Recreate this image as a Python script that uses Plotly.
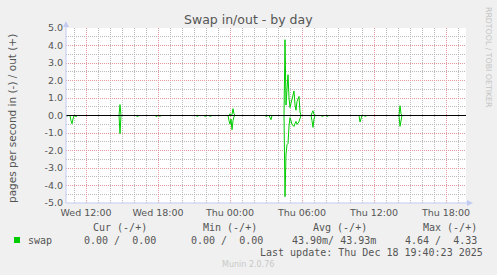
import pandas as pd
import plotly.graph_objects as go

# ---------------- data ----------------
title = "Swap in/out - by day"
y_label = "pages per second in (-) / out (+)"
y_tick_vals = [5, 4, 3, 2, 1, 0, -1, -2, -3, -4, -5]
y_tick_labels = ["5.0", "4.0", "3.0", "2.0", "1.0", "0.0",
                 "-1.0", "-2.0", "-3.0", "-4.0", "-5.0"]

range_start = "2025-12-17 10:20"
range_end = "2025-12-18 19:40"

# non-zero 5-minute samples (all other samples read as 0)
sample_times = [
    "2025-12-17 10:25", "2025-12-17 10:45", "2025-12-17 10:50", "2025-12-17 10:55",
    "2025-12-17 11:10", "2025-12-17 14:50", "2025-12-17 16:15", "2025-12-17 17:50",
    "2025-12-17 18:10", "2025-12-17 21:15", "2025-12-17 21:55", "2025-12-17 22:20",
    "2025-12-17 23:55", "2025-12-18 00:00", "2025-12-18 00:05", "2025-12-18 00:10",
    "2025-12-18 00:15", "2025-12-18 00:20", "2025-12-18 03:00", "2025-12-18 03:20",
    "2025-12-18 03:25", "2025-12-18 04:35", "2025-12-18 04:40", "2025-12-18 04:45",
    "2025-12-18 04:50", "2025-12-18 04:55", "2025-12-18 05:00", "2025-12-18 05:05",
    "2025-12-18 05:10", "2025-12-18 05:15", "2025-12-18 05:20", "2025-12-18 05:25",
    "2025-12-18 05:30", "2025-12-18 05:35", "2025-12-18 05:40", "2025-12-18 05:45",
    "2025-12-18 05:50", "2025-12-18 06:50", "2025-12-18 06:55", "2025-12-18 07:00",
    "2025-12-18 07:40", "2025-12-18 08:05", "2025-12-18 09:00", "2025-12-18 09:45",
    "2025-12-18 10:10", "2025-12-18 10:50", "2025-12-18 10:55", "2025-12-18 11:15",
    "2025-12-18 14:10", "2025-12-18 14:15", "2025-12-18 16:40", "2025-12-18 17:25",
    "2025-12-18 19:00",
]
swap_out = [
    0, 0, 0, 0,
    0, 0.62, 0, 0,
    0, 0, 0, 0,
    0, 0.10, 0, 0.05,
    0.39, 0.10, 0, 0,
    0, 4.33, 0.60, 1.50,
    2.33, 1.00, 0.45, 0.70,
    1.00, 1.20, 1.40, 0.60,
    0.30, 0.80, 1.00, 1.09,
    0.20, 0.15, 0.27, 0.05,
    0, 0, 0, 0,
    0, 0, 0, 0,
    0.56, 0.10, 0, 0,
    0,
]
swap_in = [
    0.05, 0.30, 0.47, 0.20,
    0.08, 1.04, 0.06, 0.06,
    0.06, 0.05, 0.05, 0.05,
    0.30, 0.50, 0.20, 0.81,
    0.30, 0.05, 0.05, 0.12,
    0.24, 4.64, 2.20, 1.67,
    1.60, 0.60, 0.12, 0.30,
    0.52, 0.55, 0.62, 0.45,
    0.34, 0.50, 0.45, 0.34,
    0.10, 0.30, 0.68, 0.20,
    0.05, 0.05, 0.04, 0.04,
    0.04, 0.37, 0.15, 0.05,
    0.62, 0.20, 0.04, 0.04,
    0.04,
]

legend_name = "swap"
legend_headers = ["Cur (-/+)", "Min (-/+)", "Avg (-/+)", "Max (-/+)"]
legend_values = ["0.00 /\u00a0\u00a00.00", "0.00 /\u00a0\u00a00.00",
                 "43.90m/\u00a043.93m", "4.64 /\u00a0\u00a04.33"]
last_update = "Last update: Thu Dec 18 19:40:23 2025"
footer = "Munin 2.0.76"
side_text = "RRDTOOL / TOBI OETIKER"

# ---------------- build series ----------------
grid = pd.date_range(range_start, range_end, freq="5min")
idx = pd.to_datetime(sample_times)
s_out = pd.Series(swap_out, index=idx).reindex(grid, fill_value=0.0)
s_in = pd.Series(swap_in, index=idx).reindex(grid, fill_value=0.0)

GREEN = "#00cc00"
W, H = 497, 275
L, R, T, B = 66, 31, 28, 72
PW, PH = W - L - R, H - T - B


def px(x):
    return (x - L) / PW


def py(y):
    return (H - B - y) / PH


fig = go.Figure()
fig.add_trace(go.Scatter(x=grid, y=s_out.values, mode="lines",
                         line=dict(color=GREEN, width=1), hoverinfo="skip",
                         showlegend=False))
fig.add_trace(go.Scatter(x=grid, y=-s_in.values, mode="lines",
                         line=dict(color=GREEN, width=1), hoverinfo="skip",
                         showlegend=False))

MAJOR = "#e39a9a"
MINOR = "#b9b9b9"
DASH = "1px,1px"
TICKC = "#555555"

fig.update_layout(
    width=W, height=H,
    margin=dict(l=L, r=R, t=T, b=B, pad=0),
    paper_bgcolor="#f0f0f0", plot_bgcolor="#ffffff",
    showlegend=False,
    font=dict(family="DejaVu Sans", color=TICKC),
    xaxis=dict(
        type="date", range=[range_start, range_end],
        tick0="2025-12-17 00:00", dtick=6 * 3600 * 1000,
        tickformat="%a %H:%M",
        showgrid=True, gridcolor=MAJOR, griddash=DASH, gridwidth=1,
        minor=dict(dtick=3600 * 1000, tick0="2025-12-17 00:00", showgrid=True,
                   gridcolor=MINOR, griddash=DASH, gridwidth=1),
        zeroline=False, showline=False, ticks="",
        tickfont=dict(family="DejaVu Sans", size=9.5, color=TICKC),
        ticklabelstandoff=2,
        fixedrange=True,
    ),
    yaxis=dict(
        range=[-5, 5], tickvals=y_tick_vals, ticktext=y_tick_labels,
        showgrid=True, gridcolor=MAJOR, griddash=DASH, gridwidth=1,
        minor=dict(dtick=0.5, tick0=0, showgrid=True,
                   gridcolor=MINOR, griddash=DASH, gridwidth=1),
        zeroline=False, showline=False, ticks="",
        tickfont=dict(family="DejaVu Sans", size=9.5, color=TICKC),
        ticklabelstandoff=2,
        fixedrange=True,
    ),
)

AXC = "#c4cbf3"
shapes = [
    # zero rule above the data
    dict(type="line", xref="paper", yref="y", x0=0, x1=1, y0=0, y1=0,
         line=dict(color="#000000", width=1), layer="above"),
    # axis lines
    dict(type="line", xref="paper", yref="paper", x0=px(66), x1=px(66),
         y0=py(203), y1=py(23), line=dict(color=AXC, width=1), layer="above"),
    dict(type="line", xref="paper", yref="paper", x0=px(66), x1=px(471),
         y0=py(203), y1=py(203), line=dict(color=AXC, width=1), layer="above"),
    # arrow heads
    dict(type="path", xref="paper", yref="paper",
         path=f"M {px(66)} {py(21)} L {px(63)} {py(27)} L {px(69)} {py(27)} Z",
         fillcolor=AXC, line=dict(color=AXC, width=0), layer="above"),
    dict(type="path", xref="paper", yref="paper",
         path=f"M {px(473)} {py(203)} L {px(467)} {py(200)} L {px(467)} {py(206)} Z",
         fillcolor=AXC, line=dict(color=AXC, width=0), layer="above"),
    # legend square
    dict(type="rect", xref="paper", yref="paper", x0=px(14), x1=px(20),
         y0=py(243), y1=py(237), fillcolor=GREEN, line=dict(width=0)),
]
fig.update_layout(shapes=shapes)

MONO = "DejaVu Sans Mono"
ann = []


def text(x, y, s, size, color=TICKC, family="DejaVu Sans", xanchor="center",
         angle=0):
    ann.append(dict(xref="paper", yref="paper", x=px(x), y=py(y), text=s,
                    showarrow=False, xanchor=xanchor, yanchor="middle",
                    textangle=angle, borderpad=0,
                    font=dict(family=family, size=size, color=color)))


text(248.5, 19, title, 12.5)
text(12, 119, y_label, 10.5, angle=-90)
text(489, 57, side_text, 7.8, color="#c4c4c4", angle=90)
for hx, h in zip([148, 258, 368, 478], legend_headers):
    text(hx, 227, h, 10, family=MONO, xanchor="right")
text(27, 240, legend_name, 10, family=MONO, xanchor="left")
for vx, v in zip([157, 264, 377, 478], legend_values):
    text(vx, 240, v, 10, family=MONO, xanchor="right")
text(484, 252, last_update, 10, family=MONO, xanchor="right")
text(248, 264, footer, 8, color="#c8c8c8")
fig.update_layout(annotations=ann)

fig.write_html("out.html")
